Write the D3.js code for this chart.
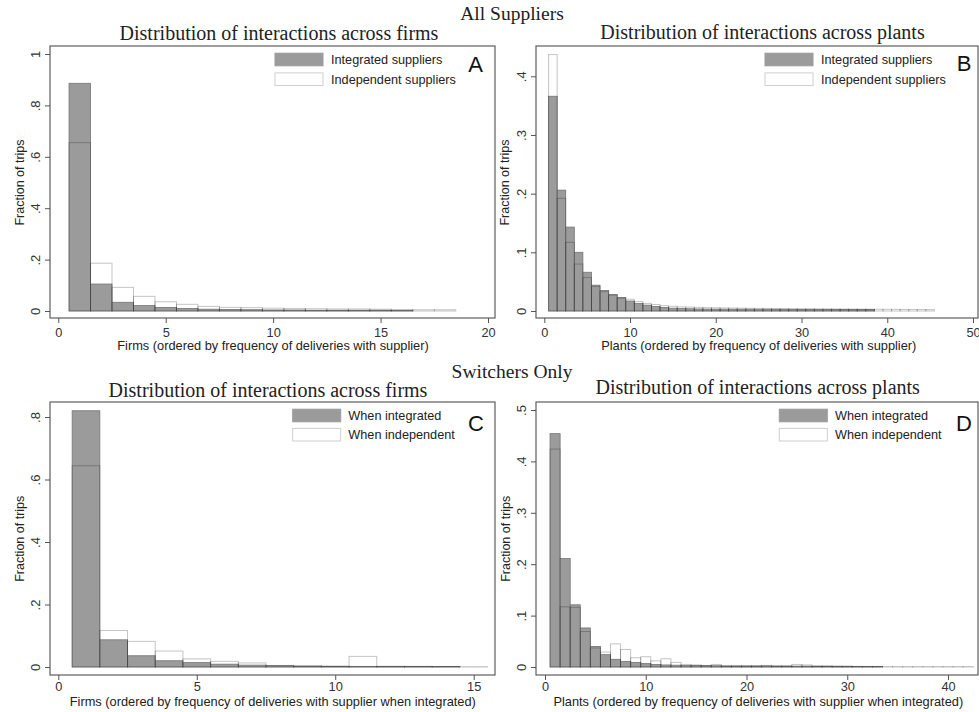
<!DOCTYPE html>
<html><head><meta charset="utf-8">
<script src="https://cdn.jsdelivr.net/npm/d3@7"></script>
<style>body{margin:0;background:#fff} svg{display:block}</style>
</head><body>
<svg id="c" width="979" height="712"></svg>
<script>
// ---- Data (fraction of trips, bin k = rank k) ----
const firmsIntegrated = [0.886, 0.105, 0.034, 0.021, 0.014, 0.010, 0.007, 0.006, 0.005, 0.004, 0.004, 0.003, 0.003, 0.003, 0.003, 0.002];
const firmsIndependent = [0.655, 0.186, 0.092, 0.057, 0.036, 0.026, 0.018, 0.014, 0.013, 0.011, 0.010, 0.009, 0.008, 0.008, 0.007, 0.006, 0.005, 0.005];

const plantsIntegrated = [0.366, 0.206, 0.143, 0.100, 0.066, 0.044, 0.035, 0.028, 0.023, 0.017, 0.013, 0.010, 0.0075, 0.006, 0.0048, 0.0042, 0.0038, 0.0035, 0.0033, 0.0032, 0.0031, 0.003, 0.003, 0.003, 0.0029, 0.0029, 0.0028, 0.0028, 0.0027, 0.0027, 0.0026, 0.0026, 0.0025, 0.0025, 0.0025, 0.0024, 0.0024, 0.0024];
const plantsIndependent = [0.437, 0.192, 0.117, 0.080, 0.057, 0.042, 0.033, 0.027, 0.022, 0.020, 0.016, 0.013, 0.011, 0.009, 0.008, 0.007, 0.0066, 0.0062, 0.0058, 0.0055, 0.0052, 0.005, 0.0048, 0.0046, 0.0045, 0.0044, 0.0042, 0.0041, 0.004, 0.0039, 0.0038, 0.0037, 0.0036, 0.0035, 0.0034, 0.0033, 0.0032, 0.0031, 0.003, 0.0029, 0.0028, 0.0027, 0.0026, 0.0025, 0.0024];

const switchFirmsIntegrated = [0.820, 0.087, 0.036, 0.020, 0.014, 0.009, 0.006, 0.004, 0.003, 0.002, 0.002, 0.002, 0.0015, 0.0015];
const switchFirmsIndependent = [0.644, 0.117, 0.082, 0.051, 0.026, 0.018, 0.013, 0.005, 0.003, 0.003, 0.034, 0.002, 0.002, 0.0015, 0.001];

const switchPlantsIntegrated = [0.454, 0.211, 0.121, 0.076, 0.040, 0.024, 0.015, 0.011, 0.009, 0.0066, 0.005, 0.004, 0.0035, 0.003, 0.003, 0.0025, 0.0025, 0.002, 0.002, 0.002, 0.002, 0.002, 0.0018, 0.0018, 0.0017, 0.0016, 0.0015, 0.0015, 0.0014, 0.0013, 0.0012, 0.0012, 0.001];
const switchPlantsIndependent = [0.424, 0.117, 0.116, 0.069, 0.037, 0.029, 0.045, 0.034, 0.018, 0.020, 0.012, 0.016, 0.009, 0.005, 0.004, 0.003, 0.005, 0.002, 0.002, 0.002, 0.002, 0.003, 0.002, 0.002, 0.005, 0.004, 0.002, 0.002, 0.0015, 0.0015, 0.001, 0.001, 0.001, 0.001, 0.001, 0.001, 0.001, 0.001, 0.001, 0.001, 0.001, 0.001];

const xTicksA = [0, 5, 10, 15, 20];
const xTicksB = [0, 10, 20, 30, 40, 50];
const xTicksC = [0, 5, 10, 15];
const xTicksD = [0, 10, 20, 30, 40];
const yTicksA = [0, 0.2, 0.4, 0.6, 0.8, 1];
const yTicksB = [0, 0.1, 0.2, 0.3, 0.4];
const yTicksC = [0, 0.2, 0.4, 0.6, 0.8];
const yTicksD = [0, 0.1, 0.2, 0.3, 0.4, 0.5];

const legendAll = ["Integrated suppliers", "Independent suppliers"];
const legendSwitch = ["When integrated", "When independent"];

const GRAY = "#9b9b9b";
const SANS = "'Liberation Sans', Arial, sans-serif";
const SERIF = "'Liberation Serif', 'Times New Roman', serif";

const svg = d3.select("#c");
svg.append("rect").attr("width", 979).attr("height", 712).attr("fill", "#fff");

function fmt(v) {
  if (v === 0) return "0";
  if (v >= 1) return String(v);
  return String(+v.toFixed(2)).replace(/^0/, "");
}

function panel(cfg) {
  const g = svg.append("g");
  const f = cfg.frame;
  const x = d3.scaleLinear().domain(cfg.xDom).range(cfg.xRange);
  const y = d3.scaleLinear().domain(cfg.yDom).range(cfg.yRange);

  // title
  g.append("text").attr("x", cfg.titleX).attr("y", cfg.titleY)
    .attr("text-anchor", "middle").attr("font-family", SERIF).attr("font-size", 20)
    .attr("fill", "#222").text(cfg.title);

  // integrated bars (gray)
  g.append("g").selectAll("rect").data(cfg.integ).join("rect")
    .attr("x", (d, i) => x(i + 0.5))
    .attr("width", (d, i) => x(i + 1.5) - x(i + 0.5))
    .attr("y", d => y(d))
    .attr("height", d => y(0) - y(d))
    .attr("fill", GRAY).attr("stroke", "#767676").attr("stroke-width", 0.8);

  // independent bars (outline)
  g.append("g").selectAll("rect").data(cfg.indep).join("rect")
    .attr("x", (d, i) => x(i + 0.5))
    .attr("width", (d, i) => x(i + 1.5) - x(i + 0.5))
    .attr("y", d => y(d))
    .attr("height", d => y(0) - y(d))
    .attr("fill", "none").attr("stroke", "rgba(0,0,0,0.23)").attr("stroke-width", 1);

  // frame
  g.append("rect").attr("x", f.l).attr("y", f.t).attr("width", f.r - f.l).attr("height", f.b - f.t)
    .attr("fill", "none").attr("stroke", "#5e5e5e").attr("stroke-width", 1.2);

  // x axis
  const xa = g.append("g").attr("transform", `translate(0,${f.b})`)
    .call(d3.axisBottom(x).tickValues(cfg.xTicks).tickSize(5).tickFormat(d3.format("d")));
  xa.select(".domain").remove();
  xa.selectAll("line").attr("stroke", "#555");
  xa.selectAll("text").attr("font-family", SANS).attr("font-size", 12.8).attr("fill", "#333")
    .attr("y", 0).attr("dy", 0).attr("transform", `translate(0,${cfg.xLabBase - f.b})`);

  // y axis
  const ya = g.append("g").attr("transform", `translate(${f.l},0)`)
    .call(d3.axisLeft(y).tickValues(cfg.yTicks).tickSize(5).tickFormat(fmt));
  ya.select(".domain").remove();
  ya.selectAll("line").attr("stroke", "#555");
  ya.selectAll("text").attr("font-family", SANS).attr("font-size", 13).attr("fill", "#333")
    .attr("x", 0).attr("y", 0).attr("dy", 0).attr("text-anchor", "middle")
    .attr("transform", "translate(-10.5,0) rotate(-90)");

  // axis titles
  g.append("text").attr("x", cfg.xTitleX).attr("y", cfg.xTitleY).attr("text-anchor", "middle")
    .attr("font-family", SANS).attr("font-size", cfg.xTitleSize).attr("fill", "#222").text(cfg.xTitle);
  g.append("text").attr("transform", `translate(${cfg.yTitleX},${cfg.yTitleY}) rotate(-90)`)
    .attr("text-anchor", "middle").attr("font-family", SANS).attr("font-size", 12.5)
    .attr("fill", "#222").text("Fraction of trips");

  // legend
  const L = cfg.legend;
  cfg.legendLabels.forEach((lab, i) => {
    const yy = L.y[i];
    g.append("rect").attr("x", L.x).attr("y", yy - 6.3).attr("width", 48).attr("height", 12.6)
      .attr("fill", i === 0 ? GRAY : "#fff").attr("stroke", i === 0 ? GRAY : "#cfcfcf").attr("stroke-width", 1);
    g.append("text").attr("x", L.tx).attr("y", yy).attr("dy", "0.35em")
      .attr("font-family", SANS).attr("font-size", 12.7).attr("fill", "#222").text(lab);
  });

  // panel letter
  g.append("text").attr("x", cfg.letterX).attr("y", cfg.letterY).attr("text-anchor", "middle")
    .attr("font-family", SANS).attr("font-size", 22).attr("fill", "#111").text(cfg.letter);
}

// section headers
svg.append("text").attr("x", 512).attr("y", 19.5).attr("text-anchor", "middle")
  .attr("font-family", SERIF).attr("font-size", 19.5).attr("fill", "#222").text("All Suppliers");
svg.append("text").attr("x", 512).attr("y", 378).attr("text-anchor", "middle")
  .attr("font-family", SERIF).attr("font-size", 19.5).attr("fill", "#222").text("Switchers Only");

panel({
  title: "Distribution of interactions across firms", titleX: 279, titleY: 40,
  frame: {l: 50, t: 46, r: 495, b: 318},
  xDom: [0, 20], xRange: [58.3, 488], yDom: [0, 1], yRange: [311, 54],
  xTicks: xTicksA, yTicks: yTicksA, xLabBase: 336.5,
  integ: firmsIntegrated, indep: firmsIndependent,
  xTitle: "Firms (ordered by frequency of deliveries with supplier)", xTitleX: 273, xTitleY: 350, xTitleSize: 12.8,
  yTitleX: 23.5, yTitleY: 182.5,
  legend: {x: 275, tx: 331, y: [59.5, 79.2]}, legendLabels: legendAll,
  letter: "A", letterX: 475.5, letterY: 71.7
});
panel({
  title: "Distribution of interactions across plants", titleX: 762.5, titleY: 38.5,
  frame: {l: 536, t: 46, r: 978, b: 318},
  xDom: [0, 50], xRange: [544.3, 973], yDom: [0, 0.4], yRange: [311, 76.3],
  xTicks: xTicksB, yTicks: yTicksB, xLabBase: 336.5,
  integ: plantsIntegrated, indep: plantsIndependent,
  xTitle: "Plants (ordered by frequency of deliveries with supplier)", xTitleX: 758.8, xTitleY: 350, xTitleSize: 12.8,
  yTitleX: 509, yTitleY: 182.5,
  legend: {x: 765, tx: 821, y: [59.5, 79.2]}, legendLabels: legendAll,
  letter: "B", letterX: 964, letterY: 71
});
panel({
  title: "Distribution of interactions across firms", titleX: 268, titleY: 396.7,
  frame: {l: 50, t: 402, r: 495, b: 675},
  xDom: [0, 15], xRange: [58.3, 473.7], yDom: [0, 0.8], yRange: [667, 417],
  xTicks: xTicksC, yTicks: yTicksC, xLabBase: 691,
  integ: switchFirmsIntegrated, indep: switchFirmsIndependent,
  xTitle: "Firms (ordered by frequency of deliveries with supplier when integrated)", xTitleX: 272.8, xTitleY: 706.3, xTitleSize: 12.8,
  yTitleX: 24, yTitleY: 538.8,
  legend: {x: 292.7, tx: 348.3, y: [415.5, 434.7]}, legendLabels: legendSwitch,
  letter: "C", letterX: 476, letterY: 430.7
});
panel({
  title: "Distribution of interactions across plants", titleX: 757.7, titleY: 394.3,
  frame: {l: 536, t: 402, r: 978, b: 675},
  xDom: [0, 40], xRange: [545, 948], yDom: [0, 0.5], yRange: [667, 410],
  xTicks: xTicksD, yTicks: yTicksD, xLabBase: 691,
  integ: switchPlantsIntegrated, indep: switchPlantsIndependent,
  xTitle: "Plants (ordered by frequency of deliveries with supplier when integrated)", xTitleX: 758.3, xTitleY: 706.3, xTitleSize: 12.8,
  yTitleX: 510, yTitleY: 538.8,
  legend: {x: 779.3, tx: 835, y: [415.5, 434.7]}, legendLabels: legendSwitch,
  letter: "D", letterX: 964, letterY: 430.7
});
</script>
</body></html>
